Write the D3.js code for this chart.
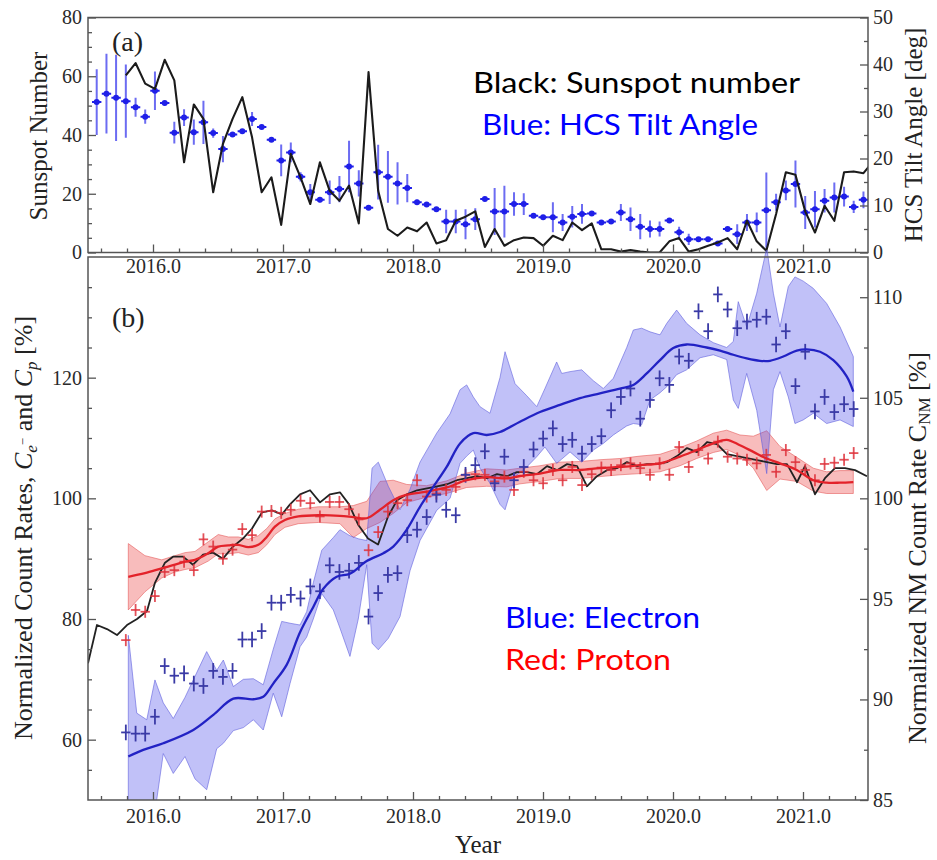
<!DOCTYPE html>
<html>
<head>
<meta charset="utf-8">
<script src="https://cdn.jsdelivr.net/npm/d3@7/dist/d3.min.js"></script>
<style>
  body { margin: 0; background: #fff; }
  .tick text { font-family: "Liberation Serif", "Times New Roman", serif; font-size: 20px; fill: #2a2a2a; }
  .tick line { stroke: #555; stroke-width: 1.3; }
  .domain { display: none; }
</style>
</head>
<body>
<svg id="chart" width="937" height="860"></svg>
<script>
// ---- Solar-rotation time stamps (decimal year) shared by panel (a) and the data points of panel (b)
const rotationYears = [2015.567,2015.642,2015.716,2015.791,2015.866,2015.940,2016.015,2016.090,2016.164,2016.239,
  2016.314,2016.388,2016.463,2016.538,2016.612,2016.687,2016.762,2016.836,2016.911,2016.986,
  2017.060,2017.135,2017.210,2017.284,2017.359,2017.434,2017.508,2017.583,2017.658,2017.732,
  2017.807,2017.881,2017.956,2018.031,2018.105,2018.180,2018.255,2018.329,2018.404,2018.479,
  2018.553,2018.628,2018.703,2018.777,2018.852,2018.927,2019.001,2019.076,2019.151,2019.225,
  2019.300,2019.375,2019.449,2019.524,2019.599,2019.673,2019.748,2019.823,2019.897,2019.972,
  2020.047,2020.121,2020.196,2020.270,2020.345,2020.420,2020.494,2020.569,2020.644,2020.718,
  2020.793,2020.868,2020.942,2021.017,2021.092,2021.166,2021.241,2021.316,2021.390,2021.465,2021.540];

// Panel (a): sunspot number
const sunspotNumber = [null,null,null,60.3,64.5,57.5,55.7,65.6,58.6,30.7,
  50.4,45.5,20.5,37.0,45.5,52.9,39.2,20.5,25.6,9.4,
  33.6,25.6,16.5,30.7,21.0,17.6,22.8,9.9,61.4,21.0,
  8.0,5.7,8.5,7.2,10.2,3.1,4.2,10.8,12.2,14.0,
  1.9,8.0,2.3,4.2,5.1,4.9,2.3,5.7,4.2,10.2,
  7.6,9.9,1.1,1.1,0.3,0.8,0.3,0.0,0.0,3.8,
  4.9,0.3,1.1,2.3,3.4,4.9,1.1,10.8,3.8,0.6,
  13.1,27.3,26.5,14.0,6.8,15.9,10.8,27.3,27.6,27.0,31.0];

// Panel (a): HCS tilt angle [deg] and its uncertainty
const tiltAngle = [32.0,33.8,32.9,32.2,30.9,28.9,34.4,31.8,25.5,28.7,
  25.6,27.7,25.4,22.0,25.1,25.8,28.4,26.7,24.0,19.6,
  21.3,16.1,12.8,11.2,12.8,13.5,18.3,14.7,9.5,17.1,
  16.1,14.7,13.7,10.7,10.2,9.2,6.6,6.6,6.0,7.1,
  11.4,8.7,8.7,10.3,10.3,7.8,7.5,7.5,6.4,7.6,
  8.2,8.3,6.4,6.6,8.5,7.1,5.5,5.0,5.0,6.8,
  4.3,2.8,2.8,2.8,1.9,5.0,3.9,6.4,6.4,9.0,
  10.7,13.2,14.6,8.5,9.2,11.0,11.7,11.9,9.7,11.2,null];
const tiltError = [7.0,8.5,9.2,7.8,2.0,1.5,4.1,0.5,2.3,1.8,
  2.7,4.6,1.0,2.8,0.5,0.5,1.5,0.5,0.4,3.4,
  2.1,1.0,1.8,0.5,2.5,2.8,5.5,2.8,0.4,5.8,
  5.5,4.5,3.0,0.5,0.5,0.5,2.5,2.5,3.2,2.3,
  0.4,5.0,5.5,2.5,2.3,0.4,0.4,3.2,1.8,2.3,
  2.1,0.4,0.4,0.4,1.8,2.5,2.7,1.8,1.6,0.4,
  1.2,1.2,0.4,0.4,0.4,0.4,2.1,1.8,2.1,8.0,
  1.8,2.1,5.0,3.5,3.9,2.5,3.2,2.1,1.3,1.8,null];

// Panel (b): per-rotation normalized count rates [%]
const protonRate = [null,null,null,76.5,81.5,81.2,83.8,87.8,88.1,89.5,88.1,93.2,92.0,
  90.0,91.5,94.9,93.9,97.8,97.9,97.6,98.1,99.6,99.2,
  97.0,99.4,99.4,98.2,96.5,91.4,94.4,97.8,99.2,99.7,
  103.0,100.3,100.8,101.4,101.9,103.9,104.0,103.9,102.8,103.6,
  101.4,104.4,103.0,102.5,104.7,103.0,105.2,102.2,104.0,105.1,
  104.7,105.5,105.8,105.0,103.9,105.8,103.9,108.5,105.2,108.0,
  106.6,109.4,106.9,106.6,106.4,105.8,107.2,104.4,108.0,106.0,
  104.7,103.0,105.7,105.9,106.4,107.5,null,null];
const electronRate = [null,null,null,61.2,61.0,61.0,63.8,72.2,70.6,71.0,69.3,68.9,71.4,
  70.4,71.4,76.6,76.6,78.0,82.7,82.7,84.0,83.4,85.4,
  84.6,88.9,87.8,88.0,89.3,80.4,84.3,87.3,87.6,93.9,
  94.8,96.9,100.6,98.1,97.2,103.9,105.5,107.8,102.5,106.9,
  103.0,105.2,108.1,109.9,111.6,109.0,109.7,107.4,109.0,110.3,
  114.6,116.8,118.2,113.2,116.3,119.9,118.8,123.5,122.8,131.0,
  127.7,133.8,131.3,128.2,129.3,129.6,130.1,125.5,127.7,118.6,
  124.3,114.4,116.8,114.3,115.6,114.8,null,null];
const protonErr = 1.0;     // vertical half-size of proton error bars [%]
const electronErr = 1.3;   // vertical half-size of electron error bars [%]
const binHalfWidth = 0.036; // half of one rotation [yr]

// Panel (b): smoothed proton rate and its band
const protonSmoothYears = [2015.810,2015.938,2016.067,2016.169,2016.246,2016.323,2016.425,2016.502,2016.579,2016.656,
  2016.733,2016.810,2016.875,2016.938,2017.015,2017.118,2017.272,2017.438,2017.541,2017.644,
  2017.746,2017.848,2017.952,2018.105,2018.259,2018.413,2018.567,2018.721,2018.823,2018.977,
  2019.131,2019.285,2019.438,2019.592,2019.746,2019.900,2020.054,2020.182,2020.310,2020.413,
  2020.515,2020.618,2020.721,2020.823,2020.952,2021.079,2021.182,2021.285,2021.387];
const protonSmooth = [87.0,87.6,88.4,89.0,89.5,89.8,90.9,92.0,92.2,92.3,
  91.9,92.3,93.6,95.3,96.4,97.0,97.2,97.1,96.9,96.7,
  98.1,99.7,100.6,101.1,101.8,103.0,103.5,103.3,103.7,104.1,
  104.7,104.7,105.0,105.2,105.5,105.8,106.9,108.0,109.1,109.7,
  108.8,107.7,106.6,105.8,104.7,103.0,102.6,102.6,102.7];
const protonBandLow = [81.5,84.5,86.8,87.8,88.2,88.5,89.6,90.8,90.8,91.0,
  90.6,91.0,92.3,94.0,95.2,95.8,96.0,95.8,93.5,95.0,
  96.0,97.5,99.3,100.2,100.8,101.8,102.0,101.9,102.4,102.8,
  103.3,103.3,103.6,103.9,104.1,104.4,105.4,106.6,107.6,108.1,
  107.1,105.0,101.3,103.2,102.8,101.2,100.8,100.8,100.8];
const protonBandHigh = [92.5,90.5,89.8,90.5,91.0,91.2,92.8,94.0,93.6,93.6,
  93.2,93.8,95.0,96.6,97.5,98.2,98.6,98.6,98.8,99.5,
  102.8,103.0,102.3,102.1,102.9,104.2,104.9,104.7,105.0,105.4,
  106.0,106.1,106.4,106.6,107.0,107.3,108.4,109.5,110.8,111.3,
  110.5,110.3,111.2,108.6,106.8,105.0,104.4,104.6,104.6];

// Panel (b): smoothed electron rate
const electronSmoothYears = [2015.810,2015.925,2016.079,2016.310,2016.464,2016.618,2016.772,2016.848,2016.925,2017.028,
  2017.131,2017.233,2017.310,2017.413,2017.515,2017.644,2017.772,2017.848,2017.952,2018.054,
  2018.156,2018.259,2018.362,2018.464,2018.567,2018.669,2018.823,2018.977,2019.131,2019.285,
  2019.438,2019.592,2019.695,2019.798,2019.900,2020.002,2020.105,2020.259,2020.362,2020.464,
  2020.567,2020.669,2020.746,2020.848,2020.952,2021.028,2021.131,2021.233,2021.336,2021.387];
const electronSmooth = [57.2,58.3,59.4,61.6,64.1,66.8,66.7,67.1,69.3,72.4,
  77.8,82.0,85.0,87.0,87.5,89.6,90.9,92.0,94.8,98.6,
  101.9,105.2,109.1,110.8,110.5,111.0,112.7,114.3,115.5,116.6,
  117.4,118.2,118.8,120.7,122.9,124.9,125.5,125.0,124.5,123.8,
  123.2,122.8,122.8,123.5,124.5,124.7,124.3,122.9,120.2,117.7];

// Panel (b): electron band
const electronBandYears = [2015.810,2015.875,2015.952,2016.015,2016.079,2016.156,2016.246,2016.323,2016.413,2016.490,
  2016.541,2016.618,2016.695,2016.772,2016.848,2016.925,2016.990,2017.054,2017.131,2017.182,
  2017.233,2017.298,2017.387,2017.438,2017.515,2017.579,2017.644,2017.685,2017.733,2017.810,
  2017.900,2017.977,2018.054,2018.182,2018.285,2018.362,2018.413,2018.464,2018.515,2018.592,
  2018.669,2018.708,2018.785,2018.875,2018.952,2019.015,2019.105,2019.144,2019.208,2019.298,
  2019.387,2019.464,2019.541,2019.644,2019.695,2019.759,2019.823,2019.900,2019.952,2020.028,
  2020.105,2020.208,2020.310,2020.413,2020.464,2020.502,2020.567,2020.644,2020.721,2020.772,
  2020.823,2020.887,2020.938,2021.002,2021.079,2021.182,2021.285,2021.387];
const electronBandLow = [47,47,47,48,57.7,54.4,57.2,53.5,51.7,58.5,
  59.4,61.5,62.0,63.3,61.6,67.7,63.8,69.3,75.4,77.0,
  80.0,84.2,81.5,78.5,73.8,80.0,89.0,76.0,74.9,76.8,
  80.4,88.0,93.0,98.0,100.0,105.8,107.0,108.0,105.0,102.5,
  99.0,98.1,103.6,105.2,106.9,108.5,105.8,106.5,107.7,106.0,
  108.0,109.1,110.5,112.0,112.4,112.2,116.3,117.5,118.5,120.5,
  121.3,123.3,123.8,123.0,116.3,114.9,120.7,114.6,104.1,118.0,
  121.0,116.8,112.4,113.0,114.1,112.4,113.0,111.9];
const electronBandHigh = [77.3,64.4,63.3,69.9,66.1,63.5,67.0,70.5,74.6,71.5,
  73.2,68.8,70.0,70.1,69.1,75.0,79.6,79.3,79.0,81.2,
  86.0,91.4,93.5,94.8,93.8,93.3,93.0,105.0,106.0,102.0,
  98.1,101.5,106.0,110.8,114.0,118.0,118.8,116.8,115.2,114.1,
  120.0,124.3,119.0,117.0,115.2,118.2,122.6,120.7,121.0,121.3,
  119.5,118.2,119.9,125.0,127.9,128.2,127.6,127.1,129.0,131.2,
  129.0,127.1,125.8,125.0,126.0,132.6,128.4,134.0,141.5,134.0,
  128.4,135.1,136.7,136.0,134.8,132.3,128.4,123.5];

// Panel (b): neutron monitor count rate [%]
const nmYears = [2015.500,2015.569,2015.646,2015.723,2015.800,2015.877,2015.954,2016.015,2016.092,2016.154,
  2016.231,2016.308,2016.385,2016.462,2016.538,2016.615,2016.692,2016.762,2016.838,2016.915,
  2016.992,2017.054,2017.131,2017.208,2017.285,2017.362,2017.438,2017.508,2017.577,2017.654,
  2017.731,2017.808,2017.877,2017.954,2018.031,2018.108,2018.185,2018.262,2018.338,2018.415,
  2018.492,2018.569,2018.646,2018.723,2018.800,2018.877,2018.954,2019.031,2019.108,2019.185,
  2019.262,2019.338,2019.415,2019.492,2019.569,2019.646,2019.723,2019.800,2019.877,2019.954,
  2020.031,2020.108,2020.185,2020.262,2020.338,2020.415,2020.492,2020.569,2020.646,2020.723,
  2020.800,2020.877,2020.954,2021.015,2021.092,2021.169,2021.246,2021.323,2021.400,2021.492];
const nmRate = [91.8,93.7,93.5,93.2,93.7,94.0,94.4,95.8,96.8,97.1,
  97.1,96.7,97.2,97.3,97.0,97.6,98.0,98.5,99.3,99.4,
  99.2,99.7,100.2,100.4,99.8,100.2,100.3,99.7,98.7,98.0,
  97.7,99.1,99.9,100.2,100.4,100.5,100.6,100.7,100.9,101.0,
  101.1,101.0,101.2,101.1,101.3,101.3,101.2,101.6,101.4,101.7,
  101.6,100.6,101.1,101.4,101.5,101.8,101.6,101.7,101.7,101.8,
  102.1,102.5,102.3,102.8,102.7,102.2,102.1,102.0,101.9,101.8,
  101.7,101.7,100.8,101.6,100.2,101.0,101.5,101.5,101.4,101.1];

// Axis ticks
const yearTicks = [2016, 2017, 2018, 2019, 2020, 2021];
const sunspotTicks = [0, 20, 40, 60, 80];
const tiltTicks = [0, 10, 20, 30, 40, 50];
const rateTicks = [60, 80, 100, 120];
const nmTicks = [85, 90, 95, 100, 105, 110];

// ---------------------------------------------------------------------------
const svg = d3.select("#chart");
const serif = '"Liberation Serif", "Times New Roman", serif';
const sans = 'Lato, "Open Sans", sans-serif';
const L = 88, R = 868;
const aTop = 17.5, aBot = 252.5, bTop = 257, bBot = 800;

const x = d3.scaleLinear().domain([2015.5, 2021.5]).range([L, R]);
const ySun = d3.scaleLinear().domain([0, 80]).range([aBot, aTop]);
const yTilt = d3.scaleLinear().domain([0, 50]).range([aBot, aTop]);
const yRate = d3.scaleLinear().domain([50, 140]).range([bBot, bTop]);
const yNM = d3.scaleLinear().domain([85, 112]).range([bBot, bTop]);

const defs = svg.append("defs");
defs.append("clipPath").attr("id", "clipA").append("rect")
  .attr("x", L).attr("y", aTop).attr("width", R - L).attr("height", aBot - aTop);
defs.append("clipPath").attr("id", "clipB").append("rect")
  .attr("x", L).attr("y", 250).attr("width", R - L).attr("height", bBot - 250);

const minorYears = d3.range(0, 30).map(i => 2015.6 + i * 0.2)
  .filter(v => Math.abs(v - Math.round(v)) > 0.01);
const minorsBetween = (lo, hi, step, majors) =>
  d3.range(Math.round((hi - lo) / step) + 1).map(i => lo + i * step)
    .filter(v => !majors.some(m => Math.abs(m - v) < 1e-6));

function drawAxis(axis, tx, ty) {
  svg.append("g").attr("transform", `translate(${tx},${ty})`).call(axis);
}

// ================= Panel (a) =================
const gA = svg.append("g").attr("clip-path", "url(#clipA)");

// tilt-angle error bars
const tiltPts = rotationYears.map((yr, i) => ({ yr, v: tiltAngle[i], e: tiltError[i] }))
  .filter(d => d.v != null);
gA.selectAll("line.tv").data(tiltPts).join("line")
  .attr("x1", d => x(d.yr)).attr("x2", d => x(d.yr))
  .attr("y1", d => yTilt(d.v - d.e)).attr("y2", d => yTilt(d.v + d.e))
  .attr("stroke", "#6c6cf2").attr("stroke-width", 2);
gA.selectAll("line.th").data(tiltPts).join("line")
  .attr("x1", d => x(d.yr - binHalfWidth)).attr("x2", d => x(d.yr + binHalfWidth))
  .attr("y1", d => yTilt(d.v)).attr("y2", d => yTilt(d.v))
  .attr("stroke", "#1f1fe8").attr("stroke-width", 2);
gA.selectAll("circle.tp").data(tiltPts).join("circle")
  .attr("cx", d => x(d.yr)).attr("cy", d => yTilt(d.v)).attr("r", 3)
  .attr("fill", "#1f1fe8");

// sunspot number
const sunLine = d3.line().defined(d => d.v != null).x(d => x(d.yr)).y(d => ySun(d.v));
gA.append("path")
  .datum(rotationYears.map((yr, i) => ({ yr, v: sunspotNumber[i] })))
  .attr("d", sunLine).attr("fill", "none").attr("stroke", "#1b1b1b")
  .attr("stroke-width", 2.1).attr("stroke-linejoin", "round");

// frame & axes of panel (a)
svg.append("rect").attr("x", L).attr("y", aTop).attr("width", R - L).attr("height", aBot - aTop)
  .attr("fill", "none").attr("stroke", "#555").attr("stroke-width", 1.5);
drawAxis(d3.axisBottom(x).tickValues(yearTicks).tickFormat(d3.format(".1f"))
  .tickSizeInner(-8).tickSizeOuter(0).tickPadding(6), 0, aBot);
drawAxis(d3.axisBottom(x).tickValues(minorYears).tickFormat("")
  .tickSizeInner(-4).tickSizeOuter(0), 0, aBot);
drawAxis(d3.axisLeft(ySun).tickValues(sunspotTicks).tickSizeInner(-8).tickSizeOuter(0).tickPadding(6), L, 0);
drawAxis(d3.axisLeft(ySun).tickValues(minorsBetween(0, 80, 5, sunspotTicks)).tickFormat("")
  .tickSizeInner(-4).tickSizeOuter(0), L, 0);
drawAxis(d3.axisRight(yTilt).tickValues(tiltTicks).tickSizeInner(-8).tickSizeOuter(0).tickPadding(5), R, 0);
drawAxis(d3.axisRight(yTilt).tickValues(minorsBetween(0, 50, 5, tiltTicks)).tickFormat("")
  .tickSizeInner(-4).tickSizeOuter(0), R, 0);

// ================= Panel (b) =================
const gB = svg.append("g").attr("clip-path", "url(#clipB)");

const band = d3.area().x(d => x(d.yr)).y0(d => yRate(d.lo)).y1(d => yRate(d.hi));

gB.append("path")
  .datum(protonSmoothYears.map((yr, i) => ({ yr, lo: protonBandLow[i], hi: protonBandHigh[i] })))
  .attr("d", band).attr("fill", "rgba(236,70,70,0.36)")
  .attr("stroke", "rgba(228,80,80,0.55)").attr("stroke-width", 1);
gB.append("path")
  .datum(electronBandYears.map((yr, i) => ({ yr, lo: electronBandLow[i], hi: electronBandHigh[i] })))
  .attr("d", band).attr("fill", "rgba(84,84,236,0.36)")
  .attr("stroke", "rgba(96,96,222,0.6)").attr("stroke-width", 1);

// neutron monitor rate
gB.append("path")
  .datum(nmYears.map((yr, i) => ({ yr, v: nmRate[i] })))
  .attr("d", d3.line().x(d => x(d.yr)).y(d => yNM(d.v)))
  .attr("fill", "none").attr("stroke", "#222").attr("stroke-width", 1.8)
  .attr("stroke-linejoin", "round");

// per-rotation crosses
function crosses(values, err, color, width) {
  const pts = rotationYears.map((yr, i) => ({ yr, v: values[i] })).filter(d => d.v != null);
  const g = gB.append("g").attr("stroke", color).attr("stroke-width", width);
  g.selectAll("line.v").data(pts).join("line")
    .attr("x1", d => x(d.yr)).attr("x2", d => x(d.yr))
    .attr("y1", d => yRate(d.v - err)).attr("y2", d => yRate(d.v + err));
  g.selectAll("line.h").data(pts).join("line")
    .attr("x1", d => x(d.yr - binHalfWidth)).attr("x2", d => x(d.yr + binHalfWidth))
    .attr("y1", d => yRate(d.v)).attr("y2", d => yRate(d.v));
}
crosses(protonRate, protonErr, "rgba(222,50,60,0.85)", 1.8);
crosses(electronRate, electronErr, "#3a3aa6", 1.8);

// smoothed curves
const smooth = d3.line().x(d => x(d.yr)).y(d => yRate(d.v)).curve(d3.curveCatmullRom.alpha(0.5));
gB.append("path")
  .datum(protonSmoothYears.map((yr, i) => ({ yr, v: protonSmooth[i] })))
  .attr("d", smooth).attr("fill", "none").attr("stroke", "#e3222a").attr("stroke-width", 2.3);
gB.append("path")
  .datum(electronSmoothYears.map((yr, i) => ({ yr, v: electronSmooth[i] })))
  .attr("d", smooth).attr("fill", "none").attr("stroke", "#2222c4").attr("stroke-width", 2.3);

// frame & axes of panel (b)
svg.append("rect").attr("x", L).attr("y", bTop).attr("width", R - L).attr("height", bBot - bTop)
  .attr("fill", "none").attr("stroke", "#555").attr("stroke-width", 1.5);
drawAxis(d3.axisBottom(x).tickValues(yearTicks).tickFormat(d3.format(".1f"))
  .tickSizeInner(-8).tickSizeOuter(0).tickPadding(9), 0, bBot);
drawAxis(d3.axisBottom(x).tickValues(minorYears).tickFormat("")
  .tickSizeInner(-4).tickSizeOuter(0), 0, bBot);
drawAxis(d3.axisLeft(yRate).tickValues(rateTicks).tickSizeInner(-8).tickSizeOuter(0).tickPadding(6), L, 0);
drawAxis(d3.axisLeft(yRate).tickValues(minorsBetween(55, 135, 5, rateTicks)).tickFormat("")
  .tickSizeInner(-4).tickSizeOuter(0), L, 0);
drawAxis(d3.axisRight(yNM).tickValues(nmTicks).tickSizeInner(-8).tickSizeOuter(0).tickPadding(5), R, 0);
drawAxis(d3.axisRight(yNM).tickValues(minorsBetween(87.5, 107.5, 2.5, nmTicks)).tickFormat("")
  .tickSizeInner(-4).tickSizeOuter(0), R, 0);

// ================= Titles and labels =================
const txt = (x0, y0, s, size, opts = {}) => svg.append("text")
  .attr("x", x0).attr("y", y0).attr("font-family", opts.family || serif)
  .attr("font-size", size).attr("fill", opts.fill || "#222")
  .attr("text-anchor", opts.anchor || "start").text(s);

txt(112, 51, "(a)", 28);
txt(112, 327, "(b)", 28);
txt(478, 853, "Year", 25, { anchor: "middle" });

svg.append("text").attr("transform", "translate(47,136) rotate(-90)")
  .attr("font-family", serif).attr("font-size", 25).attr("fill", "#222")
  .attr("text-anchor", "middle").text("Sunspot Number");
svg.append("text").attr("transform", "translate(922,135) rotate(-90)")
  .attr("font-family", serif).attr("font-size", 25).attr("fill", "#222")
  .attr("text-anchor", "middle").text("HCS Tilt Angle [deg]");

const lt = svg.append("text").attr("transform", "translate(32,528) rotate(-90)")
  .attr("font-family", serif).attr("font-size", 26).attr("fill", "#222")
  .attr("text-anchor", "middle");
lt.append("tspan").text("Normalized Count Rates, ");
lt.append("tspan").attr("font-style", "italic").text("C");
lt.append("tspan").attr("font-style", "italic").attr("font-size", 17).attr("dy", 5).text("e");
lt.append("tspan").attr("font-size", 13).attr("dy", -10).text("\u2212");
lt.append("tspan").attr("dy", 5).text(" and ");
lt.append("tspan").attr("font-style", "italic").text("C");
lt.append("tspan").attr("font-style", "italic").attr("font-size", 17).attr("dy", 5).text("p");
lt.append("tspan").attr("dy", -5).text(" [%]");

const rt = svg.append("text").attr("transform", "translate(926,548) rotate(-90)")
  .attr("font-family", serif).attr("font-size", 26).attr("fill", "#222")
  .attr("text-anchor", "middle");
rt.append("tspan").text("Normalized NM Count Rate C");
rt.append("tspan").attr("font-size", 17).attr("dy", 4).text("NM");
rt.append("tspan").attr("dy", -4).text(" [%]");

// annotations
txt(473, 93, "Black: Sunspot number", 28, { family: sans, fill: "#000" })
  .attr("textLength", 327).attr("lengthAdjust", "spacingAndGlyphs");
txt(482, 135, "Blue: HCS Tilt Angle", 28, { family: sans, fill: "#0000ff" })
  .attr("textLength", 276).attr("lengthAdjust", "spacingAndGlyphs");
txt(505, 628, "Blue: Electron", 28, { family: sans, fill: "#0000ff" })
  .attr("textLength", 195).attr("lengthAdjust", "spacingAndGlyphs");
txt(505, 670, "Red: Proton", 28, { family: sans, fill: "#ff0000" })
  .attr("textLength", 166).attr("lengthAdjust", "spacingAndGlyphs");
</script>
</body>
</html>
